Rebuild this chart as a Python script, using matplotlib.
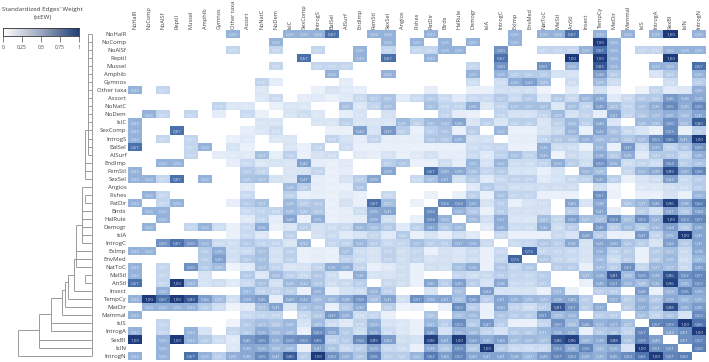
import numpy as np
import matplotlib
matplotlib.use("Agg")
import matplotlib.pyplot as plt
from matplotlib.colors import LinearSegmentedColormap

# -----------------------------
# Data
# -----------------------------
labels = ["NoHalR", "NoComp", "NoAlSf", "Reptil", "Mussel", "Amphib", "Gymnos", "Other taxa", "Assort",
          "NoNatC", "NoDem", "IsIC", "SexComp", "IntrogS", "BalSel", "AlSurf", "EndImp", "FemStl", "SexSel",
          "Angios", "Fishes", "PatDir", "Birds", "HalRule", "Demogr", "IsIA", "IntrogC", "ExImp", "EnvMed",
          "NatToC", "MalStl", "AnStl", "Insect", "TempCy", "MatDir", "Mammal", "IsIS", "IntrogA", "SexBl",
          "IsIN", "IntrogN"]

# upper triangle in hundredths, each row starts right after the diagonal
upper_rows = [
    [0,0,0,0,0,0,33,0,0,0,33,33,33,67,0,0,33,33,0,0,33,0,0,0,0,0,33,0,33,33,67,0,33,0,33,0,33,100,0,33],
    [0,0,0,0,0,0,0,0,33,0,0,0,0,0,0,0,33,0,33,0,33,0,33,0,0,33,0,0,0,0,0,100,33,0,0,0,0,0,0],
    [0,0,0,0,17,0,0,17,0,0,17,0,0,33,0,17,0,17,17,33,33,0,0,50,0,0,17,17,17,33,67,33,0,17,17,33,33,33],
    [0,0,0,0,0,0,0,0,67,0,0,0,33,0,67,0,0,33,0,0,0,0,67,0,0,0,0,100,0,100,33,0,0,0,100,0,0],
    [0,0,0,0,0,17,0,0,17,17,17,0,0,0,0,0,0,0,0,17,0,50,0,0,50,0,33,0,83,33,0,0,33,33,0,67],
    [0,0,0,0,0,0,0,0,33,0,0,0,33,0,0,0,0,0,33,0,33,22,22,22,11,11,0,44,22,0,0,11,22,0,33],
    [0,0,18,7,0,0,0,0,7,0,0,0,0,0,0,0,0,14,0,14,36,43,29,0,14,0,29,14,0,0,0,14,0,21],
    [0,9,0,0,0,5,11,8,6,0,0,0,0,6,0,0,5,5,13,13,13,4,0,8,0,13,4,0,4,17,8,9,35],
    [9,15,0,6,8,5,8,15,23,25,8,15,23,15,8,15,15,23,15,23,8,23,15,31,38,8,15,23,23,46,38,38],
    [5,10,9,0,0,27,9,18,27,0,0,27,18,18,36,9,18,27,27,27,9,27,18,45,27,18,27,36,55,36,55],
    [10,14,9,0,6,11,0,12,0,0,0,18,7,5,0,18,12,12,18,29,12,18,6,41,18,24,29,35,29,41],
    [0,10,10,20,10,10,10,30,20,30,30,40,10,20,10,20,20,10,20,30,20,40,10,0,30,30,50,30,80],
    [0,5,5,42,11,47,21,5,21,26,5,21,0,32,5,5,11,16,32,5,42,26,16,11,5,53,5,21],
    [18,12,6,18,6,6,6,24,24,35,12,12,0,6,6,18,24,24,35,29,29,24,29,53,65,41,100],
    [14,5,5,5,5,5,5,5,5,14,15,17,5,5,36,14,14,5,31,5,47,14,39,19,25,50],
    [8,6,11,5,8,12,6,6,15,8,19,27,19,35,4,15,12,38,23,35,8,23,23,15,35],
    [0,21,25,5,5,14,7,32,11,32,14,14,18,36,21,14,50,36,14,18,14,54,21,25],
    [39,0,0,67,39,39,28,17,22,11,11,5,11,0,33,28,0,17,33,39,89,39,56],
    [0,16,27,41,13,22,8,16,19,19,8,11,16,19,41,20,5,11,14,43,16,21],
    [0,0,0,0,8,22,17,13,13,13,13,13,0,13,4,0,9,9,13,14,21],
    [5,0,5,20,5,27,17,17,5,5,5,0,51,5,0,5,5,12,5,32],
    [54,54,42,11,21,5,11,13,0,40,11,38,0,25,31,46,96,38,62],
    [33,24,5,21,12,12,12,0,21,0,41,5,0,21,12,41,24,44],
    [30,13,37,10,10,27,17,43,27,27,53,27,53,33,100,53,57],
    [8,36,14,14,36,14,21,0,46,21,30,22,30,44,24,40],
    [15,5,5,5,16,11,44,21,5,5,47,18,35,100,41],
    [15,17,24,21,38,11,41,40,25,21,11,44,22,41],
    [74,17,17,15,11,35,18,21,5,22,27,15,38],
    [24,17,15,11,30,14,21,5,22,30,14,31],
    [21,21,5,29,21,51,17,31,27,15,43],
    [0,31,38,81,29,50,38,86,52,57],
    [5,40,51,33,28,36,96,36,53],
    [21,21,0,46,5,33,56,39],
    [37,21,33,23,38,32,35],
    [21,37,26,88,36,45],
    [27,18,26,11,53],
    [57,59,100,65],
    [43,51,100],
    [51,57],
    [60],
]

colorbar_ticks = [0, 0.25, 0.5, 0.75, 1]
colorbar_labels = ["0", "0,25", "0,5", "0,75", "1"]

# dendrogram, heights measured from the leaves, rows are positions in labels
leaf_heights = [3.4] * 12 + [6.7, 3.4, 3.4, 3.4, 6.7, 6.7, 6.7, 9.4, 6.7, 6.7, 9.4, 9.4, 9.4, 9.4, 9.4,
                              15.4, 17.4, 15.4, 6.7, 6.7, 17.4, 23.4, 26.7, 30, 41, 41, 53, 53, 73.4]
node_heights = [3.4, 6.7, 9.4, 6.7, 15.4, 6.7, 17.4, 23.4, 26.7, 30, 41, 53, 73.4]
node_tops = [0, 12, 19, 20, 23.8, 30, 28, 30, 30.8, 31.9, 32.8, 34.8, 36.8]
node_bottoms = [15, 18, 26, 21, 29, 31, 32, 33, 34, 35, 37, 39, 40]
link_rows = [23.8, 28, 30, 30.8, 31.9, 32.8, 34.8, 36.8]
link_from = [15.4, 17.4, 23.4, 26.7, 30, 41, 53, 73.4]
link_to = [9.4, 15.4, 17.4, 23.4, 26.7, 30, 41, 53]

# -----------------------------
# Matrix
# -----------------------------
n = len(labels)
matrix = np.zeros((n, n))
for i, row in enumerate(upper_rows):
    if len(row) != n - i - 1:
        raise ValueError(f"row {labels[i]} has {len(row)} values")
    matrix[i, i + 1:] = row
matrix = (matrix + matrix.T) / 100

# -----------------------------
# Figure
# -----------------------------
W, H = 709, 362
plt.rcParams["font.family"] = ["Open Sans", "DejaVu Sans"]
fig = plt.figure(figsize=(W / 100, H / 100), dpi=100)

def px_axes(x0, y0, x1, y1):
    return fig.add_axes([x0 / W, 1 - y1 / H, (x1 - x0) / W, (y1 - y0) / H])

cell_cmap = LinearSegmentedColormap.from_list(
    "stew", [(0, "#ffffff"), (0.05, "#e8effa"), (0.17, "#c3d6ee"), (0.33, "#94b2da"),
             (0.67, "#4b71ad"), (1, "#1c3a7c")])
bar_cmap = LinearSegmentedColormap.from_list(
    "stew_bar", [(0, "#ffffff"), (0.5, "#9ba8bf"), (1, "#1f3f75")])
text_col = "#404040"

# heatmap
ax = px_axes(127.7, 30, 705.8, 359.6)
ax.pcolormesh(np.arange(n + 1), np.arange(n + 1), matrix, cmap=cell_cmap, vmin=0, vmax=1)
ax.set_xlim(0, n)
ax.set_ylim(n, 0)
for i in range(n):
    for j in range(n):
        if matrix[i, j] > 0:
            ax.text(j + 0.5, i + 0.52, f"{matrix[i, j]:.2f}".replace(".", ","), ha="center", va="center",
                    fontsize=3.2, color="white", alpha=0.8 if matrix[i, j] > 0.12 else 0.55)
ax.xaxis.tick_top()
ax.set_xticks(np.arange(n) + 0.5)
ax.set_xticklabels(labels, rotation=90, fontsize=4.1, color=text_col)
ax.set_yticks(np.arange(n) + 0.5)
ax.set_yticklabels(labels, fontsize=4.3, color=text_col)
ax.tick_params(length=0, pad=1.0)
for s in ax.spines.values():
    s.set_visible(False)

# dendrogram, same row scale as the heatmap
tree = px_axes(18.3, 30, 91.7, 359.6)
tree.set_xlim(73.4, 0)
tree.set_ylim(n, 0)
tree.axis("off")
line_style = dict(color="#9a9a9a", linewidth=0.7, clip_on=False)
rows = np.arange(n) + 0.5
tree.hlines(rows, leaf_heights, 0, **line_style)
tree.vlines(0, 0.5, n - 0.5, **line_style)
tree.vlines(node_heights, np.array(node_tops) + 0.5, np.array(node_bottoms) + 0.5, **line_style)
tree.hlines(np.array(link_rows) + 0.5, link_from, link_to, **line_style)

# colour key
cax = px_axes(3.3, 27.5, 78.8, 36)
cax.imshow(np.linspace(0, 1, 256)[None, :], cmap=bar_cmap, aspect="auto", extent=[0, 1, 0, 1])
cax.set_yticks([])
cax.set_xticks(colorbar_ticks)
cax.set_xticklabels(colorbar_labels, fontsize=3.6, color=text_col)
cax.tick_params(length=4, width=0.5, color="#555555", pad=2.5)
for s in cax.spines.values():
    s.set_linewidth(0.6)
    s.set_color("#333333")

fig.text(42.5 / W, 1 - 9 / H, "Standardized Edges' Weight", ha="center", va="center", fontsize=4.5, color=text_col)
fig.text(42.5 / W, 1 - 18 / H, "(stEW)", ha="center", va="center", fontsize=4.5, color=text_col)

fig.savefig("out.png", dpi=100)
